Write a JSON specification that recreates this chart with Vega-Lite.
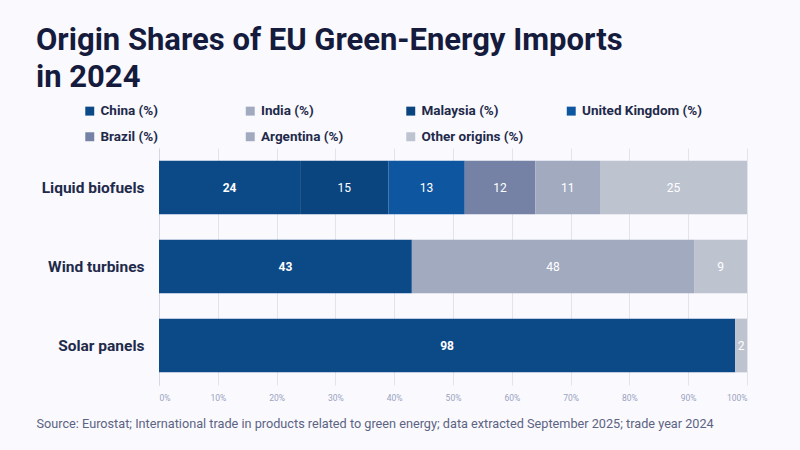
{
  "$schema": "https://vega.github.io/schema/vega-lite/v6.json",
  "width": 588,
  "height": 237,
  "autosize": "none",
  "padding": {"left": 159, "top": 148, "right": 53, "bottom": 65},
  "background": "#f9f9fe",
  "title": {
    "text": ["Origin Shares of EU Green-Energy Imports", "in 2024"],
    "anchor": "start",
    "frame": "group",
    "dx": -123,
    "dy": 71,
    "offset": 57,
    "baseline": "alphabetic",
    "fontSize": 31,
    "fontWeight": 700,
    "lineHeight": 37,
    "color": "#151b3d"
  },
  "data": {
    "values": [
      {"category": "Liquid biofuels", "origin": "China (%)", "order": 1, "share": 24},
      {"category": "Liquid biofuels", "origin": "Malaysia (%)", "order": 3, "share": 15},
      {"category": "Liquid biofuels", "origin": "United Kingdom (%)", "order": 4, "share": 13},
      {"category": "Liquid biofuels", "origin": "Brazil (%)", "order": 5, "share": 12},
      {"category": "Liquid biofuels", "origin": "Argentina (%)", "order": 6, "share": 11},
      {"category": "Liquid biofuels", "origin": "Other origins (%)", "order": 7, "share": 25},
      {"category": "Wind turbines", "origin": "China (%)", "order": 1, "share": 43},
      {"category": "Wind turbines", "origin": "India (%)", "order": 2, "share": 48},
      {"category": "Wind turbines", "origin": "Other origins (%)", "order": 7, "share": 9},
      {"category": "Solar panels", "origin": "China (%)", "order": 1, "share": 98},
      {"category": "Solar panels", "origin": "Other origins (%)", "order": 7, "share": 2}
    ]
  },
  "transform": [
    {"stack": "share", "groupby": ["category"], "sort": [{"field": "order"}], "as": ["x0", "x1"]},
    {"calculate": "(datum.x0 + datum.x1) / 2", "as": "mid"}
  ],
  "encoding": {
    "y": {
      "field": "category",
      "type": "nominal",
      "sort": ["Liquid biofuels", "Wind turbines", "Solar panels"],
      "scale": {"paddingInner": 0.32, "paddingOuter": 0.16},
      "axis": {
        "title": null,
        "ticks": false,
        "domain": true,
        "domainColor": "#d5d8e2",
        "labelFontSize": 15.5,
        "labelFontWeight": "bold",
        "labelColor": "#1f2a4a",
        "labelPadding": 15
      }
    }
  },
  "layer": [
    {
      "mark": {"type": "bar"},
      "encoding": {
        "x": {
          "field": "x0",
          "type": "quantitative",
          "scale": {"domain": [0, 100]},
          "axis": {
            "values": [0, 10, 20, 30, 40, 50, 60, 70, 80, 90, 100],
            "labelExpr": "datum.value + '%'",
            "labelFontSize": 8.5,
            "labelColor": "#9aa3bf",
            "labelPadding": 8,
            "ticks": false,
            "domain": false,
            "grid": true,
            "gridColor": "#e2e4ec",
            "title": "Source: Eurostat; International trade in products related to green energy; data extracted September 2025; trade year 2024",
            "titleX": -123,
            "titleY": 42,
            "titleAlign": "left",
            "titleAnchor": "start",
            "titleBaseline": "alphabetic",
            "titleFontSize": 12.7,
            "titleFontWeight": "normal",
            "titleColor": "#5d6382"
          }
        },
        "x2": {"field": "x1"},
        "color": {
          "field": "origin",
          "type": "nominal",
          "scale": {
            "domain": ["China (%)", "India (%)", "Malaysia (%)", "United Kingdom (%)", "Brazil (%)", "Argentina (%)", "Other origins (%)"],
            "range": ["#0c4a87", "#a2aabf", "#0a4580", "#0f56a0", "#7582a5", "#a2aabf", "#bec3d0"]
          },
          "legend": {
            "title": null,
            "orient": "none",
            "legendX": -76,
            "legendY": -44,
            "direction": "horizontal",
            "columns": 4,
            "gridAlign": "all",
            "columnPadding": 22.5,
            "rowPadding": 11,
            "symbolType": "square",
            "symbolSize": 80,
            "symbolStrokeWidth": 0,
            "symbolOpacity": 1,
            "labelFontSize": 13.5,
            "labelFontWeight": "bold",
            "labelColor": "#1f2a4a",
            "labelOffset": 4,
            "padding": 0
          }
        }
      }
    },
    {
      "transform": [{"filter": "datum.origin === 'China (%)'"}],
      "mark": {"type": "text", "color": "white", "fontSize": 12, "fontWeight": "bold"},
      "encoding": {
        "x": {"field": "mid", "type": "quantitative"},
        "text": {"field": "share", "type": "quantitative"}
      }
    },
    {
      "transform": [{"filter": "datum.origin !== 'China (%)'"}],
      "mark": {"type": "text", "color": "white", "fontSize": 12},
      "encoding": {
        "x": {"field": "mid", "type": "quantitative"},
        "text": {"field": "share", "type": "quantitative"}
      }
    }
  ],
  "config": {
    "font": "Roboto",
    "view": {"stroke": null}
  }
}
